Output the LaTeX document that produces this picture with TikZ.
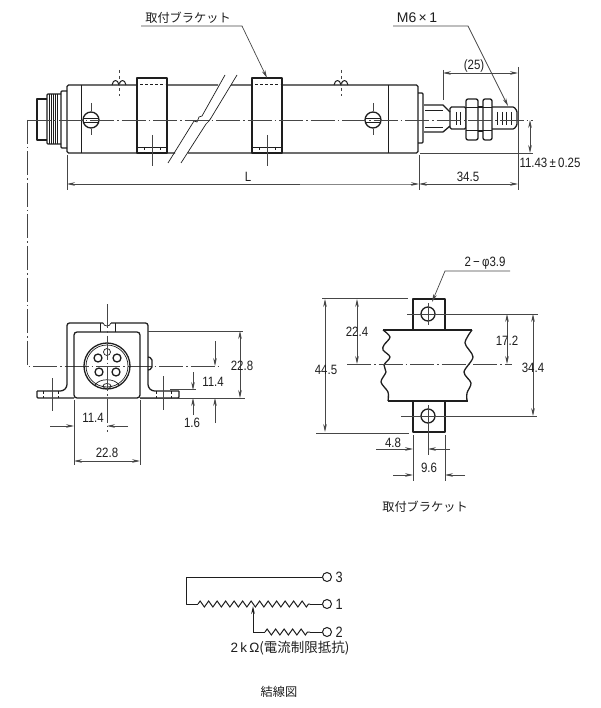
\documentclass[tikz,border=0pt]{standalone}
\usepackage{fontspec}
\setmainfont[FakeStretch=0.85]{Liberation Sans}
\newfontfamily\cjk{Noto Sans CJK JP}
\newfontfamily\widesans{Liberation Sans}
\usepackage{tikz}
\usetikzlibrary{arrows.meta,positioning,decorations.pathmorphing}
\definecolor{inkdark}{RGB}{30,30,30}
\definecolor{inkgray}{RGB}{70,70,70}
\tikzstyle{part} = [line width=1.3pt, color=inkdark, line join=round]
\tikzstyle{thinpart} = [line width=0.7pt, color=inkdark]
\tikzstyle{dimline} = [line width=0.7pt, color=inkgray, >={Stealth[length=8pt,width=3.6pt]}]
\tikzstyle{centerline} = [line width=0.6pt, color=inkgray, dash pattern=on 24pt off 3pt on 1.5pt off 3pt]
\tikzstyle{hidden} = [line width=1pt, color=inkdark, dash pattern=on 3pt off 2pt]
\tikzstyle{dimlabel} = [font=\fontsize{13.5}{14}\selectfont, text=inkdark, inner sep=0.5pt]
\tikzstyle{cjklabel} = [font=\fontsize{12.2}{14}\selectfont\cjk, text=inkdark, inner sep=0.5pt]
\tikzstyle{terminal} = [circle, draw=inkdark, line width=1pt, minimum size=9pt, inner sep=0pt]
\tikzstyle{resistor} = [line width=1pt, color=inkdark, decorate, decoration={zigzag, segment length=8.5pt, amplitude=3pt}]

\begin{document}
\begin{tikzpicture}[x=1pt, y=-1pt]
\useasboundingbox (0,0) rectangle (600,708);

% Cylinder body
\draw[part, rounded corners=1.5pt] (218,85) -- (67,85) -- (67,153) -- (175,153);
\draw[part, rounded corners=1.5pt] (231,85) -- (418,85) -- (418,153) -- (188,153);
\draw[thinpart] (81,85) -- (81,153);
\draw[thinpart] (388,85) -- (388,153);

% Rear end with thread
\draw[part, rounded corners=1pt] (67,91) -- (61,91) -- (61,148) -- (67,148);
\draw[part, rounded corners=1pt] (61,94) -- (47,94) -- (47,144) -- (61,144);
\draw[part] (47,99) -- (37,99) -- (37,140) -- (47,140);
\foreach \tx in {49,51,53,55,57}
  \draw[thinpart] (\tx,94) -- (\tx,144);

% Break lines
\draw[thinpart] (168,163) -- (194,121) -- (197,122) -- (199,117) -- (202,116) -- (225,75);
\draw[thinpart] (181,163) -- (206,124) -- (209,121) -- (211,118) -- (237,75);

% Slotted screws
\foreach \sx in {91,373} {
  \draw[part, fill=white] (\sx,120) circle (8);
  \draw[thinpart] (\sx-7,118) -- (\sx+7,118);
  \draw[thinpart] (\sx-7,122) -- (\sx+7,122);
  \draw[dimline] (\sx,103) -- (\sx,111);
  \draw[dimline] (\sx,129) -- (\sx,135);
}

% Small bumps on top
\foreach \bx in {119,341} {
  \draw[part, line width=1pt] (\bx-7,85) .. controls (\bx-6,79) and (\bx-1,79) .. (\bx,85)
    .. controls (\bx+1,79) and (\bx+6,79) .. (\bx+7,85);
  \draw[dimline, dash pattern=on 3pt off 3pt] (\bx,70) -- (\bx,96);
}

% Mounting brackets on body
\foreach \mx in {137,252} {
  \draw[part, fill=white] (\mx,153) -- (\mx,78) -- (\mx+30,78) -- (\mx+30,153) -- cycle;
  \draw[hidden] (\mx+3,85) -- (\mx+28,85);
  \draw[thinpart] (\mx,147) -- (\mx+30,147);
  \draw[hidden, line width=0.7pt] (\mx+7,147) -- (\mx+7,153);
  \draw[hidden, line width=0.7pt] (\mx+23,147) -- (\mx+23,153);
  \draw[dimline] (\mx+15,135) -- (\mx+15,166);
}

% Rod end
\draw[part, rounded corners=1pt] (418,93) -- (423,93) -- (423,143) -- (418,143);
\draw[part] (424,105) -- (443,105) -- (450,112);
\draw[part] (424,132) -- (443,132) -- (450,126);
\draw[thinpart] (425,110) -- (443,110);
\draw[thinpart] (425,127) -- (443,127);
\draw[part, rounded corners=1.5pt] (450,107) rectangle (466,129);
\draw[part, rounded corners=2pt, fill=white] (466,99) rectangle (478,140);
\draw[thinpart] (466,107) -- (478,107);
\draw[thinpart] (466,130) -- (478,130);
\draw[part] (478,107) -- (483,107);
\draw[part] (478,131) -- (483,131);
\draw[part, rounded corners=2pt, fill=white] (483,99) rectangle (492,140);
\draw[thinpart] (483,107) -- (492,107);
\draw[thinpart] (483,130) -- (492,130);
\draw[part, rounded corners=1pt] (492,107) -- (514,107) -- (517,111) -- (517,125) -- (514,129) -- (492,129);
\foreach \tx in {456,460,497,502,506,511}
  \draw[thinpart] (\tx,112) -- (\tx,125);

% Center line of side view
\draw[centerline] (27,120) -- (533,120);
\draw[centerline] (27,120) -- (27,366) -- (220,366);

% Side view dimensions
\draw[dimline] (67,155) -- (67,190);
\draw[dimline] (419,155) -- (419,190);
\draw[dimline] (518,67) -- (518,190);
\draw[dimline] (443,70) -- (443,100);
\draw[dimline] (420,153) -- (533,153);
\draw[dimline, ->] (300,184) -- (67,184);
\draw[dimline, ->] (300,184) -- (408,184) -- (419,184);
\draw[dimline, <->] (419,184) -- (518,184);
\draw[dimline, <->] (443,73) -- (518,73);
\draw[dimline, <->] (530,120) -- (530,153);
\node (dimL) [dimlabel] at (248,177) {L};
\node (dimRod) [dimlabel] at (468,177) {34.5};
\node (dimThread) [dimlabel] at (474,66) {(25)};
\node (dimAxis) [dimlabel] at (550,163) {11.43\,±\,0.25};

% Leaders of side view
\node (lblBracket) [cjklabel] at (188,18) {取付ブラケット};
\draw[dimline, ->] (141,26) -- (242,26) -- (267,78);
\node (lblScrew) [dimlabel, font=\fontsize{14}{15}\selectfont\widesans] at (417,18) {M6\,×\,1};
\draw[dimline, ->] (393,26) -- (468,26) -- (508,106);

% Front view
\draw[part, rounded corners=2.5pt] (37,391) -- (63,391) -- (67,387) -- (67,323) -- (103,323);
\draw[part, rounded corners=2.5pt] (111,323) -- (148,323) -- (148,387) -- (152,391) -- (179,391);
\draw[part, rounded corners=1pt] (37,391) -- (37,398) -- (74,398);
\draw[part, rounded corners=1pt] (179,391) -- (179,398) -- (140,398);
\draw[part, rounded corners=3pt] (74,398) -- (74,332) -- (140,332) -- (140,398) -- cycle;
\draw[thinpart] (100,323) -- (100,332);
\draw[thinpart] (115,323) -- (115,332);
\draw[thinpart] (103,323) .. controls (104,327) and (110,327) .. (111,323);
\draw[part, rounded corners=2pt] (148,357) -- (152,358) -- (152,369) -- (148,370);
\draw[part] (107,366) circle (23);
\draw[thinpart] (107,366) circle (21);
\foreach \hx/\hy in {98/358,117/358,99/372,116/372}
  \draw[part] (\hx,\hy) circle (4);
\draw[thinpart] (107,352) circle (3.5);
\draw[thinpart] (95,385) .. controls (99,378) and (115,378) .. (119,385);
\draw[thinpart] (107,386) ellipse (4 and 2.5);
\draw[hidden, line width=0.6pt] (43,391) -- (43,398);
\draw[hidden, line width=0.6pt] (58,391) -- (58,398);
\draw[hidden, line width=0.6pt] (156,391) -- (156,398);
\draw[hidden, line width=0.6pt] (171,391) -- (171,398);
\draw[dimline] (52,378) -- (52,411);
\draw[dimline] (163,376) -- (163,410);
\draw[centerline] (107,304) -- (107,432);

% Front view dimensions
\draw[dimline] (148,331) -- (243,331);
\draw[dimline] (140,398) -- (245,398);
\draw[dimline] (170,389) -- (196,389);
\draw[dimline] (74,400) -- (74,465);
\draw[dimline] (140,400) -- (140,465);
\draw[dimline, <->] (240,331) -- (240,398);
\draw[dimline, ->] (215,341) -- (215,366);
\draw[dimline, ->] (215,423) -- (215,398);
\draw[dimline, ->] (193,372) -- (193,390);
\draw[dimline, ->] (193,415) -- (193,398);
\draw[dimline, ->] (50,426) -- (74,426);
\draw[dimline, ->] (128,426) -- (107,426);
\draw[dimline, <->] (74,461) -- (140,461);
\node (dimHeight) [dimlabel] at (242,366) {22.8};
\node (dimCenter) [dimlabel] at (213,382) {11.4};
\node (dimFoot) [dimlabel] at (192,423) {1.6};
\node (dimHalf) [dimlabel] at (93,418) {11.4};
\node (dimWidth) [dimlabel] at (107,453) {22.8};

% Mounting bracket view
\draw[part] (413,330) -- (413,299) -- (445,299) -- (445,330);
\draw[part] (413,401) -- (413,432) -- (445,432) -- (445,401);
\draw[part] (383,330) -- (472,330);
\draw[part] (388,401) -- (468,401);
\draw[part] plot[smooth] coordinates {(383,330) (390,337) (384,345) (383,350) (390,357) (384,365) (386,372) (381,382) (388,392) (388,401)};
\draw[part] plot[smooth] coordinates {(472,330) (465,343) (473,357) (464,372) (471,383) (467,393) (467,401)};
\draw[part] (428,314) circle (7);
\draw[part] (428,416) circle (7);

% Mounting bracket dimensions
\draw[centerline] (347,364) -- (512,364);
\draw[dimline] (428,303) -- (428,325);
\draw[dimline] (428,405) -- (428,455);
\draw[dimline] (322,298) -- (408,298);
\draw[dimline] (316,433) -- (409,433);
\draw[dimline] (407,314) -- (538,314);
\draw[dimline] (401,416) -- (537,416);
\draw[dimline] (413,435) -- (413,481);
\draw[dimline] (445,435) -- (445,481);
\draw[dimline, <->] (325,299) -- (325,432);
\draw[dimline, <->] (357,299) -- (357,364);
\draw[dimline, <->] (507,314) -- (507,364);
\draw[dimline, <->] (533,314) -- (533,416);
\draw[dimline, ->] (376,449) -- (413,449);
\draw[dimline, ->] (450,449) -- (428,449);
\draw[dimline, ->] (393,475) -- (413,475);
\draw[dimline, ->] (465,475) -- (445,475);
\node (dimTotal) [dimlabel] at (326,370) {44.5};
\node (dimUpper) [dimlabel] at (357,332) {22.4};
\node (dimHole) [dimlabel] at (507,341) {17.2};
\node (dimPitch) [dimlabel] at (533,368) {34.4};
\node (dimEdge) [dimlabel] at (393,443) {4.8};
\node (dimTab) [dimlabel] at (429,468) {9.6};
\node (lblHoles) [dimlabel] at (485,263) {2\,−\,φ3.9};
\draw[dimline, ->] (510,271) -- (445,271) -- (432,302);
\node (lblMount) [cjklabel] at (425,507) {取付ブラケット};

% Wiring diagram
\node (term3) [terminal] at (327,577) {};
\node (term1) [terminal] at (327,604) {};
\node (term2) [terminal] at (327,632) {};
\node (lbl3) [dimlabel, font=\fontsize{15}{16}\selectfont, right=3pt of term3] {3};
\node (lbl1) [dimlabel, font=\fontsize{15}{16}\selectfont, right=3pt of term1] {1};
\node (lbl2) [dimlabel, font=\fontsize{15}{16}\selectfont, right=3pt of term2] {2};
\coordinate (corner) at (186,604);
\coordinate (wiper) at (253,606);
\coordinate (wiperfoot) at (253,632);
\draw[part, line width=1pt] (term3) -- (186,577) -- (corner) -- (198,604);
\draw[resistor] (198,604) -- (310,604);
\draw[part, line width=1pt] (310,604) -- (term1);
\draw[dimline, line width=1pt, color=inkdark, ->] (265,632) -- (wiperfoot) -- (wiper);
\draw[resistor] (265,632) -- (310,632);
\draw[part, line width=1pt] (310,632) -- (term2);
\node (lblRes) [cjklabel, font=\fontsize{13.5}{14}\selectfont\cjk] at (290,648) {{\widesans 2\,k\,Ω}(電流制限抵抗)};
\node (lblWiring) [cjklabel] at (279,692) {結線図};
\end{tikzpicture}
\end{document}
